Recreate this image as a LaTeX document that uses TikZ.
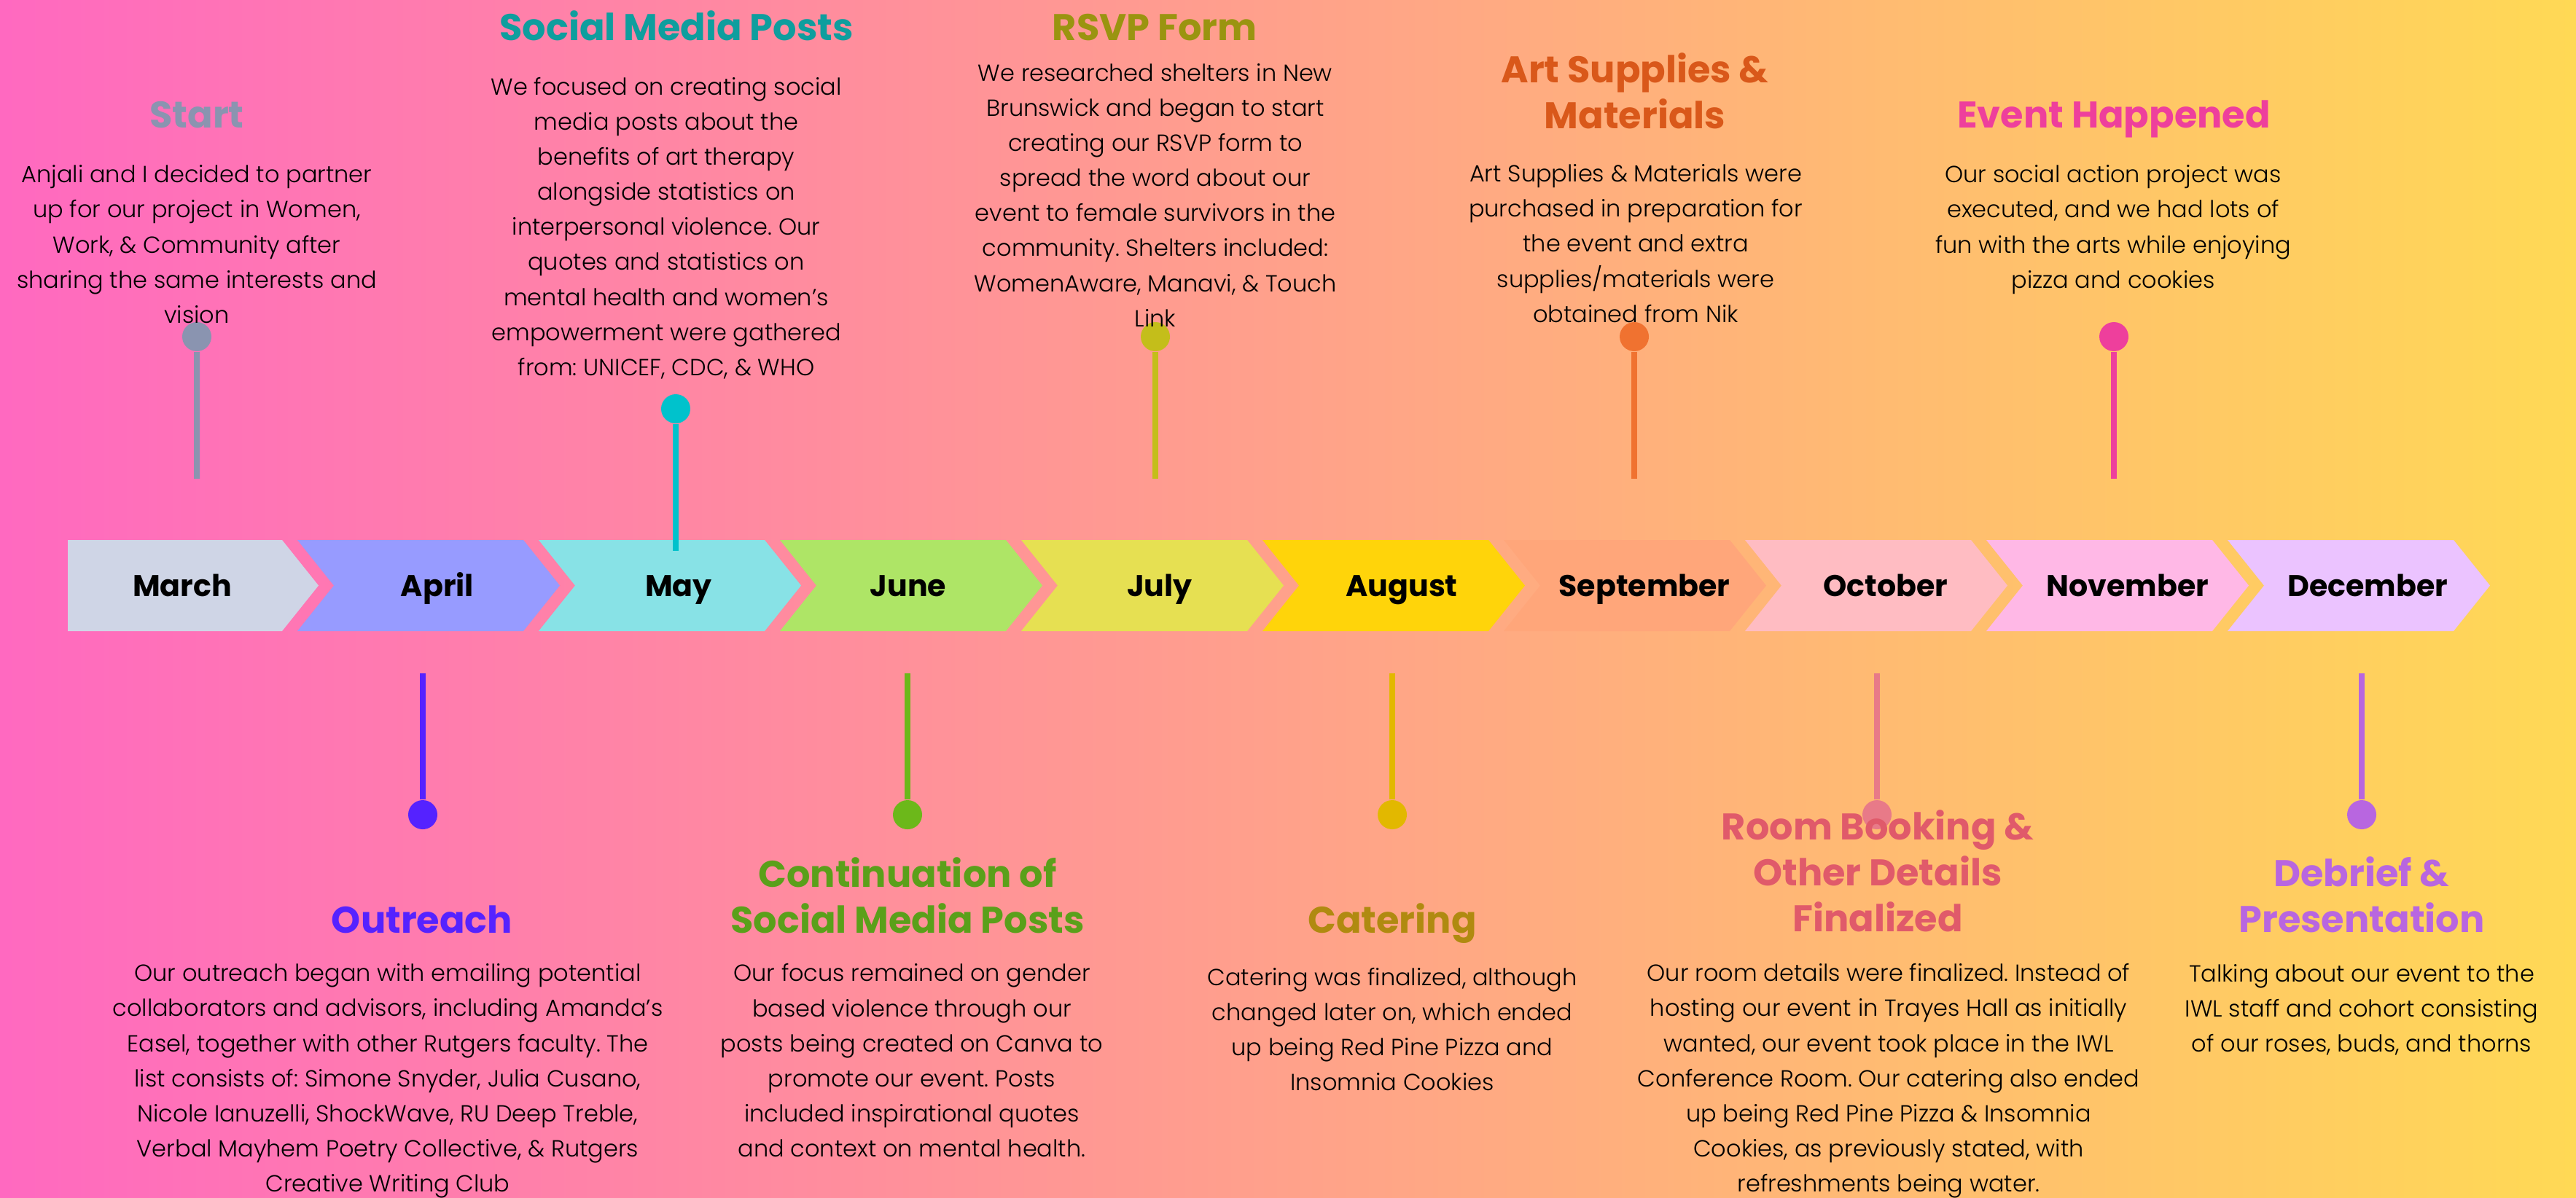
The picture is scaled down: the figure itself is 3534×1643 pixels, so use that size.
\documentclass[tikz,border=0pt]{standalone}
\usepackage{fontspec}
\setmainfont{Poppins}
\newfontfamily\lightfont{Poppins Light}
\frenchspacing

% background
\definecolor{bgleft}{HTML}{FF69C0}
\definecolor{bgright}{HTML}{FFD955}
% month arrows
\definecolor{marfill}{HTML}{CFD5E6}
\definecolor{aprfill}{HTML}{979BFF}
\definecolor{mayfill}{HTML}{88E2E6}
\definecolor{junfill}{HTML}{AEE566}
\definecolor{julfill}{HTML}{E6E052}
\definecolor{augfill}{HTML}{FFD40A}
\definecolor{sepfill}{HTML}{FFA67A}
\definecolor{octfill}{HTML}{FFBCC2}
\definecolor{novfill}{HTML}{FFB8E6}
\definecolor{decfill}{HTML}{EBC3FF}
% events
\definecolor{startc}{HTML}{8A94B0}
\definecolor{socialc}{HTML}{00C2CC}
\definecolor{socialt}{HTML}{0E9E9E}
\definecolor{rsvpc}{HTML}{C4BE1A}
\definecolor{rsvpt}{HTML}{9A9410}
\definecolor{artc}{HTML}{F07230}
\definecolor{artt}{HTML}{D9581A}
\definecolor{eventc}{HTML}{EE3F9C}
\definecolor{outc}{HTML}{5522FF}
\definecolor{contc}{HTML}{6CB81A}
\definecolor{contt}{HTML}{5AA01A}
\definecolor{caterc}{HTML}{E2B800}
\definecolor{catert}{HTML}{B08A10}
\definecolor{roomc}{HTML}{E87A88}
\definecolor{roomt}{HTML}{E05A6A}
\definecolor{debc}{HTML}{B866E0}

\begin{document}
\begin{tikzpicture}[x=0.1mm, y=-0.1mm,
    month/.style={font=\fontsize{11.7}{14}\selectfont\bfseries, text=black, anchor=base, inner sep=0pt},
    title/.style={font=\fontsize{14.5}{17.9}\selectfont\bfseries, text=#1, align=center, anchor=base, inner sep=0pt},
    body/.style={font=\lightfont\fontsize{9.1}{13.66}\selectfont, text=black, align=center, anchor=base, inner sep=0pt},
    dot/.style={circle, fill=#1, minimum size=4mm, inner sep=0pt},
    stem/.style={draw=#1, line width=0.8mm}
]

\useasboundingbox (0,0) rectangle (3534,1643);
\shade[left color=bgleft, right color=bgright] (0,0) rectangle (3534,1643);

% Month arrows
\fill[marfill] (93,741) -- (387,741) -- (437,803.5) -- (387,866) -- (93,866) -- cycle;
\fill[aprfill] (408,741) -- ++(310,0) -- ++(50,62.5) -- ++(-50,62.5) -- ++(-310,0) -- ++(50,-62.5) -- cycle;
\fill[mayfill] (739,741) -- ++(310,0) -- ++(50,62.5) -- ++(-50,62.5) -- ++(-310,0) -- ++(50,-62.5) -- cycle;
\fill[junfill] (1070,741) -- ++(310,0) -- ++(50,62.5) -- ++(-50,62.5) -- ++(-310,0) -- ++(50,-62.5) -- cycle;
\fill[julfill] (1401,741) -- ++(310,0) -- ++(50,62.5) -- ++(-50,62.5) -- ++(-310,0) -- ++(50,-62.5) -- cycle;
\fill[augfill] (1732,741) -- ++(310,0) -- ++(50,62.5) -- ++(-50,62.5) -- ++(-310,0) -- ++(50,-62.5) -- cycle;
\fill[sepfill] (2063,741) -- ++(310,0) -- ++(50,62.5) -- ++(-50,62.5) -- ++(-310,0) -- ++(50,-62.5) -- cycle;
\fill[octfill] (2394,741) -- ++(310,0) -- ++(50,62.5) -- ++(-50,62.5) -- ++(-310,0) -- ++(50,-62.5) -- cycle;
\fill[novfill] (2725,741) -- ++(310,0) -- ++(50,62.5) -- ++(-50,62.5) -- ++(-310,0) -- ++(50,-62.5) -- cycle;
\fill[decfill] (3056,741) -- ++(310,0) -- ++(50,62.5) -- ++(-50,62.5) -- ++(-310,0) -- ++(50,-62.5) -- cycle;

\node[month] (Mar) at (250,818) {March};
\node[month] (Apr) at (600,818) {April};
\node[month] (May) at (931,818) {May};
\node[month] (Jun) at (1246,818) {June};
\node[month] (Jul) at (1591,818) {July};
\node[month] (Aug) at (1923,818) {August};
\node[month] (Sep) at (2256,818) {September};
\node[month] (Oct) at (2587,818) {October};
\node[month] (Nov) at (2919,818) {November};
\node[month] (Dec) at (3248,818) {December};

% Events above the arrows (base = last line)
\node[dot=startc] (D1) at (270,462) {};
\coordinate (E1) at (270,657);
\draw[stem=startc] (D1) -- (E1);
\node[title=startc] (T1) at (270,175) {Start};
\node[body] (B1) at (270,443) {Anjali and I decided to partner\\up for our project in Women,\\Work, \& Community after\\sharing the same interests and\\vision};

\node[dot=socialc] (D3) at (927,561) {};
\coordinate (E3) at (927,756);
\draw[stem=socialc] (D3) -- (E3);
\node[title=socialt] (T3) at (928,55) {Social Media Posts};
\node[body] (B3) at (914,515) {We focused on creating social\\media posts about the\\benefits of art therapy\\alongside statistics on\\interpersonal violence. Our\\quotes and statistics on\\mental health and women’s\\empowerment were gathered\\from: UNICEF, CDC, \& WHO};

\node[dot=rsvpc] (D5) at (1585,462) {};
\coordinate (E5) at (1585,657);
\draw[stem=rsvpc] (D5) -- (E5);
\node[title=rsvpt] (T5) at (1584,55) {RSVP Form};
\node[body] (B5) at (1585,448) {We researched shelters in New\\Brunswick and began to start\\creating our RSVP form to\\spread the word about our\\event to female survivors in the\\community. Shelters included:\\WomenAware, Manavi, \& Touch\\Link};

\node[dot=artc] (D7) at (2242,462) {};
\coordinate (E7) at (2242,657);
\draw[stem=artc] (D7) -- (E7);
\node[title=artt] (T7) at (2243,176) {Art Supplies \&\\Materials};
\node[body] (B7) at (2244,442) {Art Supplies \& Materials were\\purchased in preparation for\\the event and extra\\supplies/materials were\\obtained from Nik};

\node[dot=eventc] (D9) at (2900,462) {};
\coordinate (E9) at (2900,657);
\draw[stem=eventc] (D9) -- (E9);
\node[title=eventc] (T9) at (2900,175) {Event Happened};
\node[body] (B9) at (2899,395) {Our social action project was\\executed, and we had lots of\\fun with the arts while enjoying\\pizza and cookies};

% Events below the arrows
\coordinate (E2) at (580,924);
\node[dot=outc] (D2) at (580,1118) {};
\draw[stem=outc] (E2) -- (D2);
\node[title=outc] (T2) at (579,1280) {Outreach};
\node[body] (B2) at (532,1635) {Our outreach began with emailing potential\\collaborators and advisors, including Amanda’s\\Easel, together with other Rutgers faculty. The\\list consists of: Simone Snyder, Julia Cusano,\\Nicole Ianuzelli, ShockWave, RU Deep Treble,\\Verbal Mayhem Poetry Collective, \& Rutgers\\Creative Writing Club};

\coordinate (E4) at (1245,924);
\node[dot=contc] (D4) at (1245,1118) {};
\draw[stem=contc] (E4) -- (D4);
\node[title=contt] (T4) at (1245,1280) {Continuation of\\Social Media Posts};
\node[body] (B4) at (1251,1587) {Our focus remained on gender\\based violence through our\\posts being created on Canva to\\promote our event. Posts\\included inspirational quotes\\and context on mental health.};

\coordinate (E6) at (1910,924);
\node[dot=caterc] (D6) at (1910,1118) {};
\draw[stem=caterc] (E6) -- (D6);
\node[title=catert] (T6) at (1910,1280) {Catering};
\node[body] (B6) at (1910,1496) {Catering was finalized, although\\changed later on, which ended\\up being Red Pine Pizza and\\Insomnia Cookies};

\coordinate (E8) at (2575,924);
\node[dot=roomc] (D8) at (2575,1118) {};
\draw[stem=roomc] (E8) -- (D8);
\node[title=roomt] (T8) at (2576,1278) {Room Booking \&\\Other Details\\Finalized};
\node[body] (B8) at (2591,1635) {Our room details were finalized. Instead of\\hosting our event in Trayes Hall as initially\\wanted, our event took place in the IWL\\Conference Room. Our catering also ended\\up being Red Pine Pizza \& Insomnia\\Cookies, as previously stated, with\\refreshments being water.};

\coordinate (E10) at (3240,924);
\node[dot=debc] (D10) at (3240,1118) {};
\draw[stem=debc] (E10) -- (D10);
\node[title=debc] (T10) at (3240,1279) {Debrief \&\\Presentation};
\node[body] (B10) at (3240,1443) {Talking about our event to the\\IWL staff and cohort consisting\\of our roses, buds, and thorns};

\end{tikzpicture}
\end{document}
